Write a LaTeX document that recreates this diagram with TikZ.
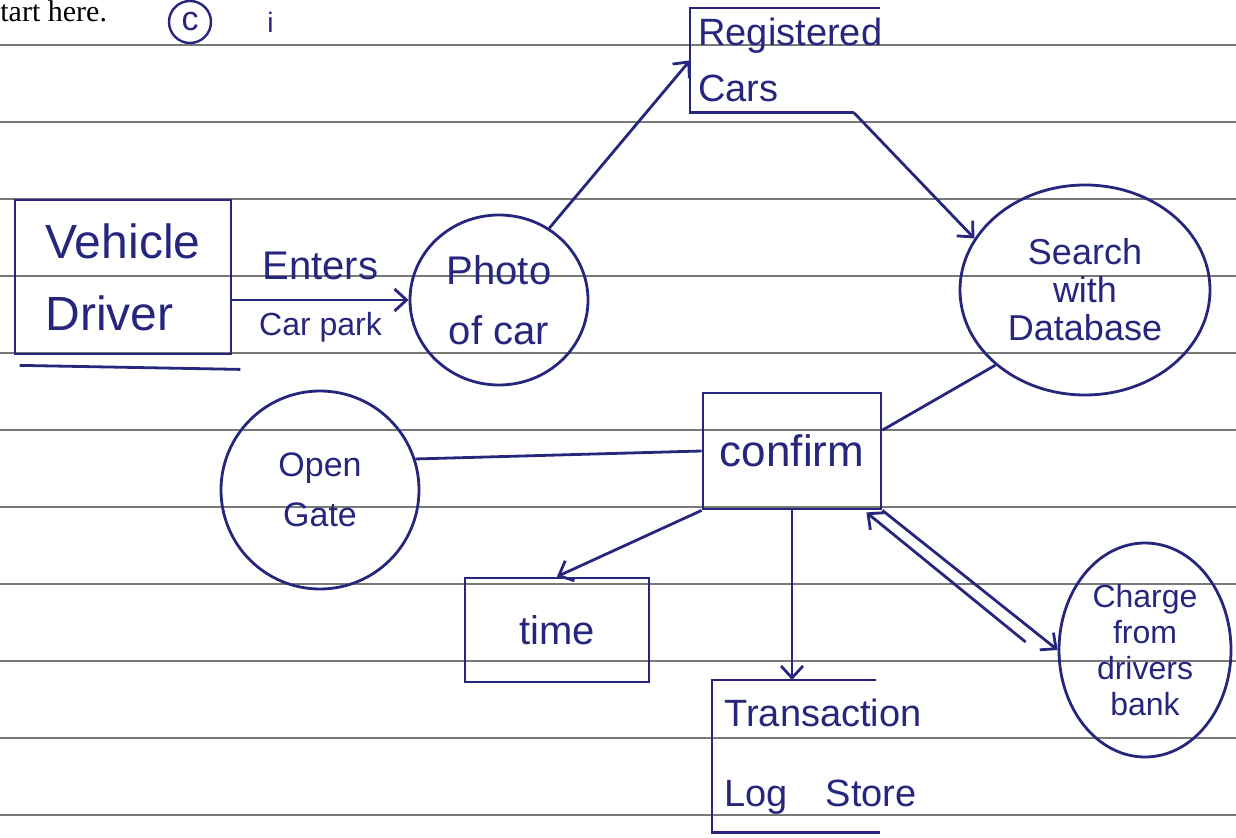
\documentclass[tikz,border=0pt]{standalone}
\usepackage{fontspec}
\setmainfont{Liberation Sans}
\newfontfamily\printfont{Liberation Serif}
\usepackage{tikz}
\usetikzlibrary{shapes.geometric, positioning, arrows.meta}
\usepackage{color}
\definecolor{ink}{RGB}{38,38,125}
\definecolor{rulegray}{RGB}{120,120,120}
\newcommand{\hw}[2]{\fontsize{#1}{#2}\selectfont}

\begin{document}
\begin{tikzpicture}[x=0.5pt, y=-0.5pt, >={Straight Barb[length=6pt,width=11pt]},
    every node/.style={text=ink},
    pen/.style={draw=ink, line width=1.4pt},
    ruled/.style={draw=rulegray, line width=0.6pt}]
            \useasboundingbox (0,0) rectangle (1236,838);
            % lined paper
            \foreach \y in {45,122,...,815}
              \draw [ruled] (0,\y) -- (1236,\y);

            \node [anchor=base west, inner sep=0pt, text=black, font=\printfont\hw{15}{18}] (start) at (0,22) {tart here.};
            \node [draw=ink, circle, line width=1.2pt, minimum size=21pt, inner sep=0pt, font=\hw{17}{18}] (part) at (190,22) {c};
            \node [right=24pt of part, font=\hw{14}{16}] (sub) {i};

            \node [draw, rectangle, pen, minimum width=108pt, minimum height=77pt, align=left, font=\hw{24}{36}] (driver) at (123,277) {Vehicle\\Driver};
            \draw [pen] ([xshift=3pt,yshift=-5pt]driver.south west) -- ([xshift=4pt,yshift=-7pt]driver.south east);
            \node [draw, ellipse, pen, minimum width=89pt, minimum height=85pt, inner sep=0pt, align=center, font=\hw{20}{30}] (photo) at (499,300) {Photo\\of car};
            \node [anchor=north west, minimum height=52pt, inner xsep=4pt, align=left, font=\hw{19}{28}] (reg) at (690,8) {Registered\\Cars};
            \draw [pen] ([xshift=95pt]reg.north west) -- (reg.north west) -- (reg.south west) -- ([xshift=82pt]reg.south west) coordinate (regend);
            \node [draw, ellipse, pen, minimum width=125pt, minimum height=105pt, inner sep=0pt, align=center, font=\hw{18}{19}] (search) at (1085,290) {Search\\with\\Database};
            \node [draw, rectangle, pen, minimum width=89pt, minimum height=58pt, font=\hw{22}{26}] (confirm) at (792,451) {confirm};
            \node [draw, circle, pen, minimum size=99pt, inner sep=0pt, align=center, font=\hw{17}{25}] (gate) at (320,490) {Open\\Gate};
            \node [draw, rectangle, pen, minimum width=92pt, minimum height=52pt, font=\hw{20}{24}] (time) at (557,630) {time};
            \node [anchor=north west, minimum height=76pt, inner xsep=6pt, align=left, font=\hw{19}{40}] (log) at (712,680) {Transaction\\Log\quad Store};
            \draw [pen] ([xshift=82pt]log.north west) -- (log.north west) -- (log.south west) -- ([xshift=84pt]log.south west);
            \node [draw, ellipse, pen, minimum width=86pt, minimum height=107pt, inner sep=0pt, align=center, font=\hw{16}{18}] (charge) at (1145,650) {Charge\\from\\drivers\\bank};

            \draw [pen, ->] (driver.east |- photo.west) -- node [above=6pt, font=\hw{20}{24}] {Enters} node [below=2pt, font=\hw{16}{20}] {Car park} (photo.west);
            \draw [pen, ->] (photo.55) -- (reg.west);
            \draw [pen, ->] (regend) -- (search.155);
            \draw [pen] (search.220) -- (confirm.13);
            \draw [pen] (gate.18) -- (confirm.west);
            \draw [pen, ->] (confirm.south west) -- (time.north);
            \draw [pen, ->] (confirm.south) -- (confirm.south |- log.north);
            \draw [pen, ->] (confirm.south east) -- (charge.west);
            \draw [pen, ->] ([xshift=-16pt,yshift=4pt]charge.west) -- ([xshift=-8pt,yshift=-1pt]confirm.south east);
          \end{tikzpicture}
\end{document}
